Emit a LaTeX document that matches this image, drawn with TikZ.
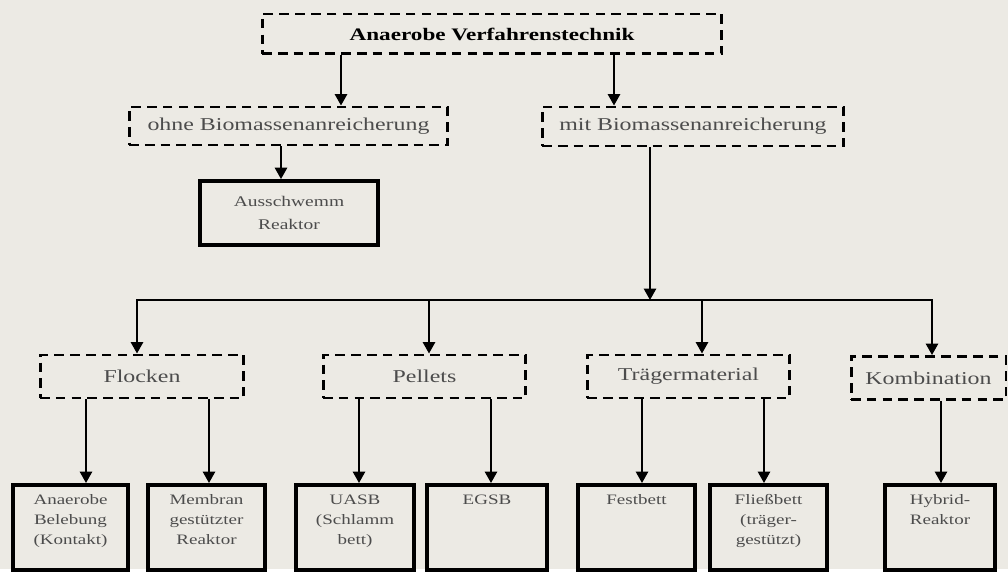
\documentclass[tikz,border=0pt]{standalone}
\usepackage{fontspec}
\setmainfont{Liberation Serif}[FakeStretch=1.32]
\usepackage{tikz}
\usetikzlibrary{arrows.meta}
\definecolor{papier}{RGB}{236,234,228}

\begin{document}
\begin{tikzpicture}[
      x=0.02cm, y=-0.02cm,
      >={Triangle[length=6.5pt, width=7pt]},
      gruppe/.style={draw, dash pattern=on 5.5pt off 3.5pt, line width=1.7pt, minimum height=0.86cm, inner sep=0pt, text=black!70, font=\fontsize{10.3}{12}\selectfont},
      kasten/.style={draw, line width=2.2pt, align=center, text=black!70, font=\fontsize{8.2}{11.4}\selectfont},
      reaktor/.style={kasten, anchor=north, inner xsep=0pt, inner ysep=0.2cm, text width=2.1cm, text height=0.2cm, text depth=1.1cm},
      pfeil/.style={->, line width=1.1pt}
  ]
      \fill[papier] (0,0) rectangle (1008,569);

      % Ebenen
      \node[gruppe, minimum width=9.2cm, minimum height=0.8cm, text=black, font=\fontsize{10}{12}\selectfont\bfseries] (verfahren) at (492,34) {Anaerobe Verfahrenstechnik};
      \node[gruppe, minimum width=6.38cm, minimum height=0.76cm] (ohne) at (288.5,126) {ohne Biomassenanreicherung};
      \node[gruppe, minimum width=6.04cm, minimum height=0.78cm] (mit)  at (693,126.5) {mit Biomassenanreicherung};
      \node[kasten, minimum width=3.56cm, minimum height=1.28cm, font=\fontsize{8.4}{13.2}\selectfont] (ausschwemm) at (289,213) {Ausschwemm\\Reaktor};

      % Biomasse
      \node[gruppe, minimum width=4.08cm] (flocken) at (142,376.5)   {Flocken};
      \node[gruppe, minimum width=4.06cm] (pellets) at (424.5,376.5) {Pellets};
      \node[gruppe, minimum width=4.06cm] (traeger) at (688.5,376.5) {Trägermaterial};
      \node[gruppe, minimum width=3.1cm]  (kombi)   at (928.5,378)   {Kombination};

      % Reaktoren
      \node[reaktor, minimum width=2.3cm]  (belebung)   at (70.5,483)  {Anaerobe\\Belebung\\(Kontakt)};
      \node[reaktor, minimum width=2.34cm] (membran)    at (206.5,483) {Membran\\gestützter\\Reaktor};
      \node[reaktor, minimum width=2.36cm] (uasb)       at (355,483)   {UASB\\(Schlamm\\bett)};
      \node[reaktor, minimum width=2.4cm]  (egsb)       at (487,483)   {EGSB};
      \node[reaktor, minimum width=2.34cm] (festbett)   at (636.5,483) {Festbett};
      \node[reaktor, minimum width=2.34cm] (fliessbett) at (768.5,483) {Fließbett\\(träger-\\gestützt)};
      \node[reaktor, minimum width=2.2cm]  (hybrid)     at (940,483)   {Hybrid-\\Reaktor};

      % Pfeile
      \draw[pfeil] (verfahren.south -| 341,0) -- (ohne.north -| 341,0);
      \draw[pfeil] (verfahren.south -| 614,0) -- (mit.north -| 614,0);
      \draw[pfeil] (ohne.south -| 281,0) -- (ausschwemm.north -| 281,0);

      \coordinate (verteiler) at (650,300);
      \draw[pfeil] (mit.south -| verteiler) -- (verteiler);
      \foreach \ziel/\xpos in {flocken/137, pellets/429, traeger/702, kombi/932}
          \draw[pfeil] (verteiler) -| (\ziel.north -| \xpos,0);

      \foreach \von/\nach/\xpos in {flocken/belebung/86, flocken/membran/209, pellets/uasb/359, pellets/egsb/491, traeger/festbett/642, traeger/fliessbett/764, kombi/hybrid/941}
          \draw[pfeil] (\von.south -| \xpos,0) -- (\nach.north -| \xpos,0);
  \end{tikzpicture}
\end{document}
